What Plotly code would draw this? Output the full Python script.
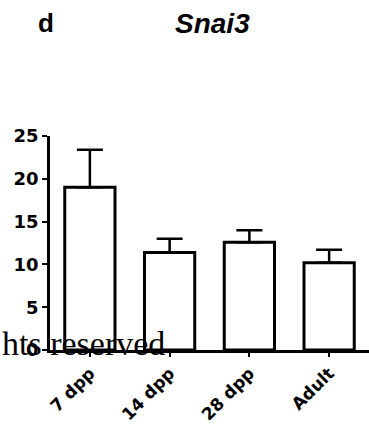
import plotly.graph_objects as go

categories = ["7 dpp", "14 dpp", "28 dpp", "Adult"]
means = [19.0, 11.4, 12.6, 10.2]
errors = [4.4, 1.6, 1.4, 1.5]
y_ticks = [0, 5, 10, 15, 20, 25]

W, H = 369, 430
L, R, T, B = 50, 0, 136, 80
pw = W - L - R
ph = H - T - B

def px(x):
    return (x - L) / pw

def py(y):
    return (H - B - y) / ph

fig = go.Figure()
fig.add_trace(go.Bar(
    x=list(range(len(categories))),
    y=means,
    width=0.63,
    marker=dict(color="white", line=dict(color="black", width=3)),
    error_y=dict(type="data", symmetric=False, array=errors,
                 arrayminus=[0] * len(errors), color="black",
                 thickness=2.5, width=13),
    showlegend=False,
))

tick_family = "DejaVu Sans, Liberation Sans, Arial"

fig.update_layout(
    width=W, height=H,
    margin=dict(l=L, r=R, t=T, b=B, pad=0),
    paper_bgcolor="white", plot_bgcolor="white",
    font=dict(family="Liberation Sans, Arial", color="black"),
)
fig.update_xaxes(
    range=[-0.5, 3.5],
    tickmode="array", tickvals=list(range(len(categories))), ticktext=categories,
    tickangle=-45,
    tickfont=dict(size=17, family=tick_family, weight="bold"),
    showline=True, linecolor="black", linewidth=2.5,
    ticks="outside", ticklen=4, tickwidth=2, tickcolor="black",
    showgrid=False, zeroline=False,
)
fig.update_yaxes(
    range=[0, 25],
    tickmode="array", tickvals=y_ticks, ticktext=[str(v) for v in y_ticks],
    tickfont=dict(size=18, family=tick_family, weight="bold"),
    showline=True, linecolor="black", linewidth=2.5,
    ticks="outside", ticklen=5, tickwidth=2, tickcolor="black",
    showgrid=False, zeroline=False,
)

fig.add_annotation(text="<b><i>Snai3</i></b>", xref="paper", yref="paper",
                   x=px(212), y=py(24), xanchor="center", yanchor="middle",
                   showarrow=False, font=dict(size=28, family="Liberation Sans, Arial"))
fig.add_annotation(text="<b>d</b>", xref="paper", yref="paper",
                   x=px(46), y=py(23), xanchor="center", yanchor="middle",
                   showarrow=False, font=dict(size=26, family="Liberation Sans, Arial"))
fig.add_annotation(text="hts reserved", xref="paper", yref="paper",
                   x=px(167), y=py(343), xanchor="right", yanchor="middle",
                   showarrow=False,
                   font=dict(size=34, family="Liberation Serif, DejaVu Serif", color="black"))

fig.write_html("out.html")
